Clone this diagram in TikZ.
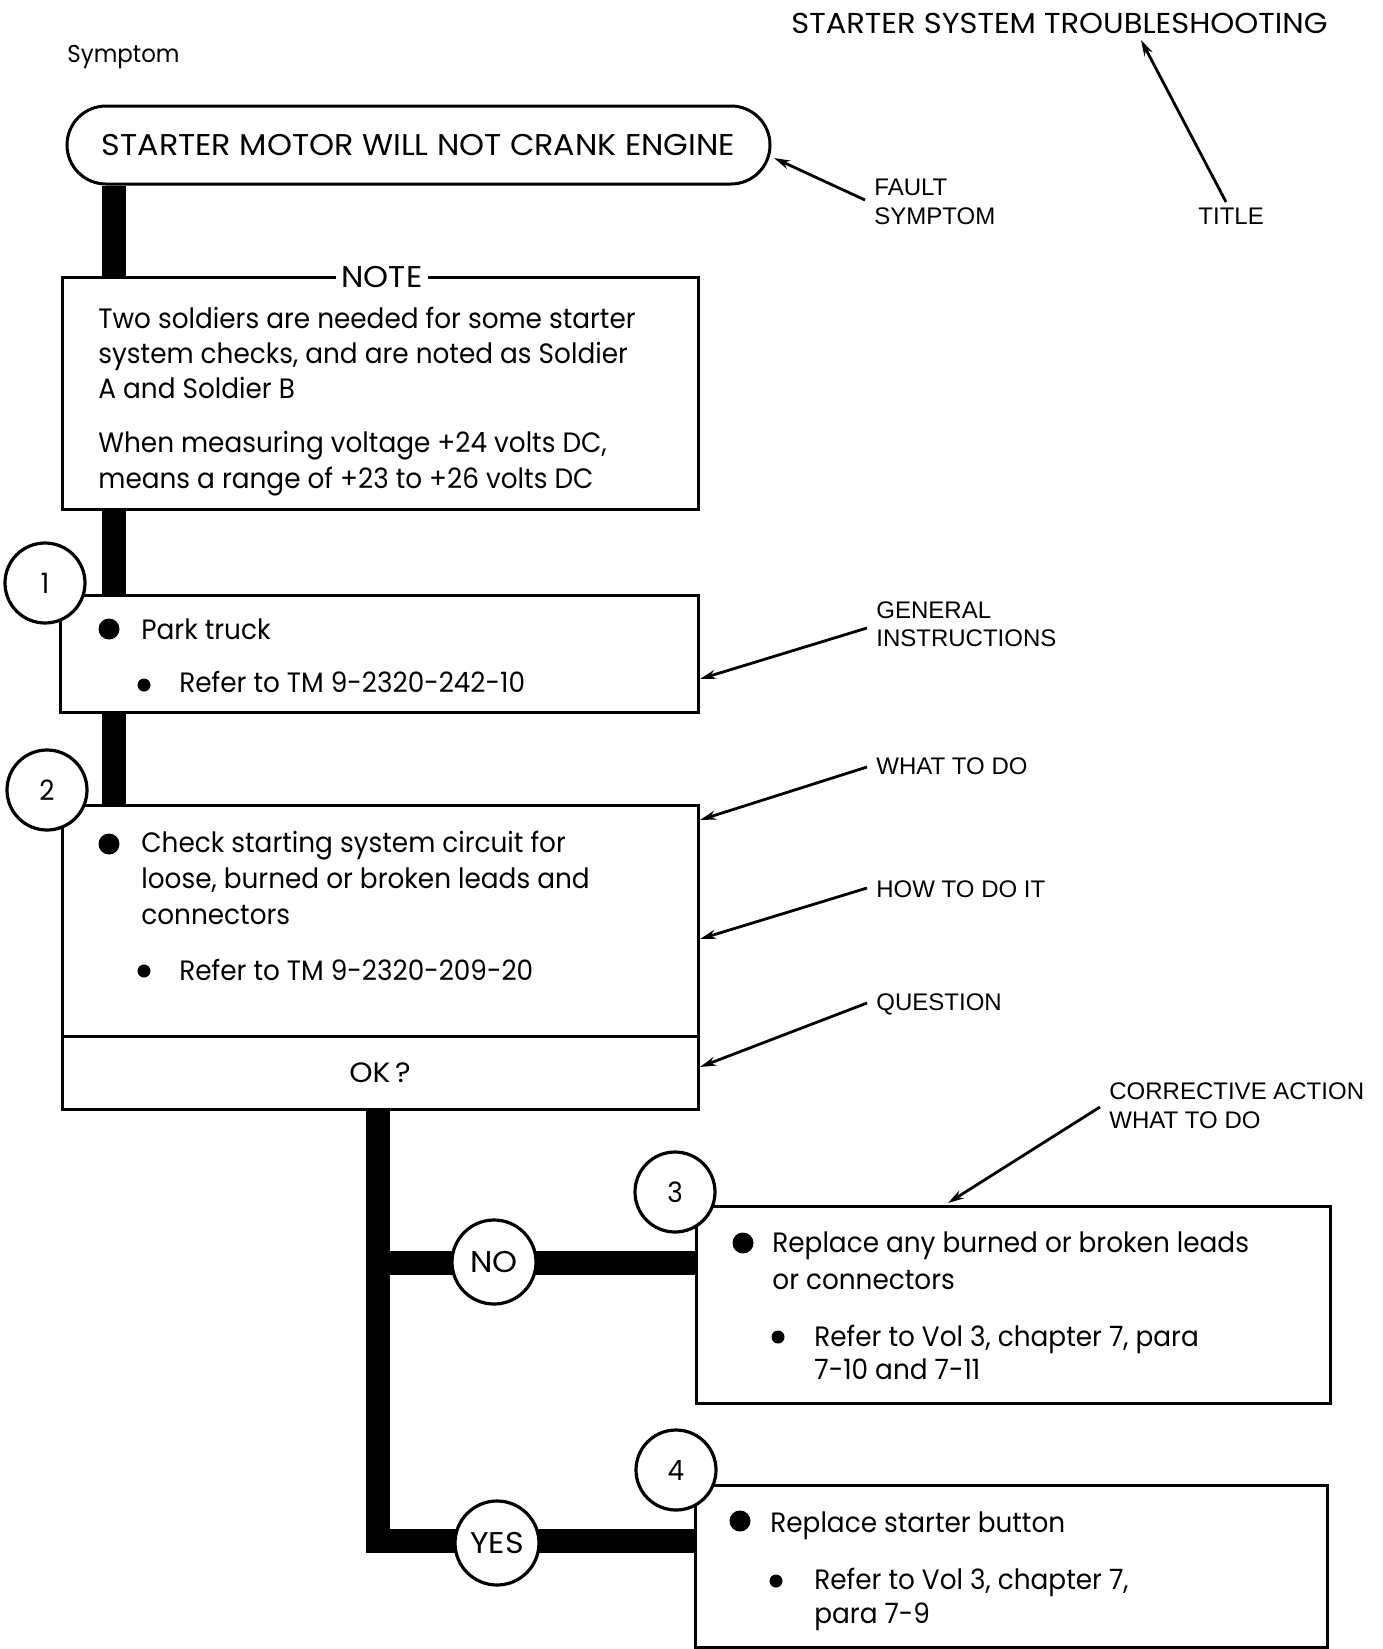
\documentclass[tikz,border=0pt]{standalone}
\usepackage{fontspec}
\setmainfont{Poppins}[FakeStretch=0.94]
\newfontfamily\capsf{Poppins}[FakeStretch=1.06]
\newfontfamily\lbl{Liberation Sans}
\usetikzlibrary{arrows.meta}
\begin{document}
\begin{tikzpicture}[x=0.5pt,y=-0.5pt,
  box/.style={draw, line width=1.5pt, fill=white, rectangle, inner sep=0pt},
  trunk/.style={line width=12pt, line cap=butt, line join=miter},
  num/.style={circle, draw, line width=1.6pt, fill=white, minimum size=40pt, inner sep=0pt, font=\fontsize{14}{16}\selectfont},
  ans/.style={num, minimum size=42pt, font=\capsf\fontsize{15}{16}\selectfont},
  txt/.style={anchor=base west, inner sep=0pt, font=\fontsize{14}{16}\selectfont},
  lab/.style={anchor=base west, inner sep=0pt, font=\lbl\fontsize{12}{14}\selectfont},
  ptr/.style={line width=1.4pt, -{Stealth[length=8pt,width=4.5pt]}},
  bigdot/.style={circle, fill, inner sep=0pt, minimum size=10.5pt},
  smalldot/.style={circle, fill, inner sep=0pt, minimum size=6.5pt},
]
\useasboundingbox (0,0) rectangle (1382,1649);
% guide coordinates
\coordinate (tx) at (114,0);
\coordinate (bx) at (378,0);
% top symptom box
\node[box, rounded corners=19.5pt, minimum width=351.5pt, minimum height=39pt, font=\capsf\fontsize{15}{16}\selectfont] (top) at (418.5,145) {STARTER MOTOR WILL NOT CRANK ENGINE};
% question box (first pass, to reach the trunk end)
\node[box, minimum width=318pt, minimum height=115.5pt] (q) at (380,920.5) {};
\draw[trunk] (top.south -| tx) -- (q.north -| tx);
\node[box, minimum width=318pt, minimum height=116pt] (note) at (380,393) {};
\node[box, minimum width=319pt, minimum height=58.5pt] (b1) at (379,653.5) {};
\node[box, minimum width=318pt, minimum height=115.5pt] (q) at (380,920.5) {};
\node[box, minimum width=318pt, minimum height=36.5pt, font=\capsf\fontsize{14}{16}\selectfont] (ok) at (380,1072.5) {OK\,?};
\node[box, minimum width=317pt, minimum height=98.5pt] (b3) at (1013,1304.5) {};
\node[box, minimum width=316pt, minimum height=81pt] (b4) at (1011,1566) {};
% branch lines
\coordinate (noy) at (0,1263);
\coordinate (yesy) at (0,1541);
\draw[trunk] (ok.south -| bx) -- (bx |- yesy) -- (b4.west |- yesy);
\draw[trunk] (bx |- noy) -- (b3.west |- noy);
\node[ans] (no) at (494,1262) {NO};
\node[ans] (yes) at (497,1543) {YES};
% number circles
\node[num] (c1) at (45,583) {1};
\node[num] (c2) at (47,790) {2};
\node[num] (c3) at (675,1192) {3};
\node[num] (c4) at (676,1470) {4};
% NOTE label
\node[fill=white, inner xsep=3pt, inner ysep=0pt, font=\capsf\fontsize{15}{16}\selectfont] (notelbl) at (382,277) {NOTE};
% headings
\node[txt, font=\fontsize{12.2}{14}\selectfont] (symptom) at (67,62) {Symptom};
\node[txt, font=\capsf\fontsize{14.4}{16}\selectfont] (title) at (791,33) {STARTER SYSTEM TROUBLESHOOTING};
% note text
\node[txt] (n1) at (98,328) {Two soldiers are needed for some starter};
\node[txt] (n2) at (98,363) {system checks, and are noted as Soldier};
\node[txt] (n3) at (98,398) {A and Soldier B};
\node[txt] (n4) at (98,452) {When measuring voltage +24 volts DC,};
\node[txt] (n5) at (98,488) {means a range of +23 to +26 volts DC};
% box 1
\node[bigdot] (d1) at (109,629) {};
\node[txt] (t1a) at (141,639) {Park truck};
\node[smalldot] (d1b) at (144,685) {};
\node[txt] (t1b) at (179,692) {Refer to TM 9-2320-242-10};
% box 2
\node[bigdot] (d2) at (109,844) {};
\node[txt] (t2a) at (141,852) {Check starting system circuit for};
\node[txt] (t2b) at (141,888) {loose, burned or broken leads and};
\node[txt] (t2c) at (141,924) {connectors};
\node[smalldot] (d2b) at (144,971) {};
\node[txt] (t2d) at (179,980) {Refer to TM 9-2320-209-20};
% box 3
\node[bigdot] (d3) at (743,1243) {};
\node[txt] (t3a) at (772,1252) {Replace any burned or broken leads};
\node[txt] (t3b) at (772,1289) {or connectors};
\node[smalldot] (d3b) at (778,1337) {};
\node[txt] (t3c) at (814,1346) {Refer to Vol 3, chapter 7, para};
\node[txt] (t3d) at (814,1379) {7-10 and 7-11};
% box 4
\node[bigdot] (d4) at (740,1521) {};
\node[txt] (t4a) at (770,1532) {Replace starter button};
\node[smalldot] (d4b) at (776,1581) {};
\node[txt] (t4b) at (814,1589) {Refer to Vol 3, chapter 7,};
\node[txt] (t4c) at (814,1623) {para 7-9};
% callout labels
\node[lab] (fault) at (874,195) {FAULT};
\node[lab] (faultb) at (874,224) {SYMPTOM};
\node[lab] (titlelbl) at (1198,224) {TITLE};
\node[lab] (gen) at (876,618) {GENERAL};
\node[lab] (genb) at (876,646) {INSTRUCTIONS};
\node[lab] (what) at (876,774) {WHAT TO DO};
\node[lab] (how) at (876,897) {HOW TO DO IT};
\node[lab] (quest) at (876,1010) {QUESTION};
\node[lab] (corr) at (1109,1099) {CORRECTIVE ACTION};
\node[lab] (corrb) at (1109,1128) {WHAT TO DO};
% callout arrows
\coordinate (fs0) at (865,200); \coordinate (fs1) at (774,158);
\coordinate (ti0) at (1226,202); \coordinate (ti1) at (1141,40);
\coordinate (gi0) at (867,628); \coordinate (gi1) at (700,679);
\coordinate (wd0) at (867,767); \coordinate (wd1) at (700,820);
\coordinate (hd0) at (867,888); \coordinate (hd1) at (700,939);
\coordinate (qu0) at (867,1003); \coordinate (qu1) at (700,1067);
\coordinate (ca0) at (1100,1107); \coordinate (ca1) at (948,1203);
\draw[ptr] (fs0) -- (fs1);
\draw[ptr] (ti0) -- (ti1);
\draw[ptr] (gi0) -- (gi1);
\draw[ptr] (wd0) -- (wd1);
\draw[ptr] (hd0) -- (hd1);
\draw[ptr] (qu0) -- (qu1);
\draw[ptr] (ca0) -- (ca1);
\end{tikzpicture}
\end{document}
